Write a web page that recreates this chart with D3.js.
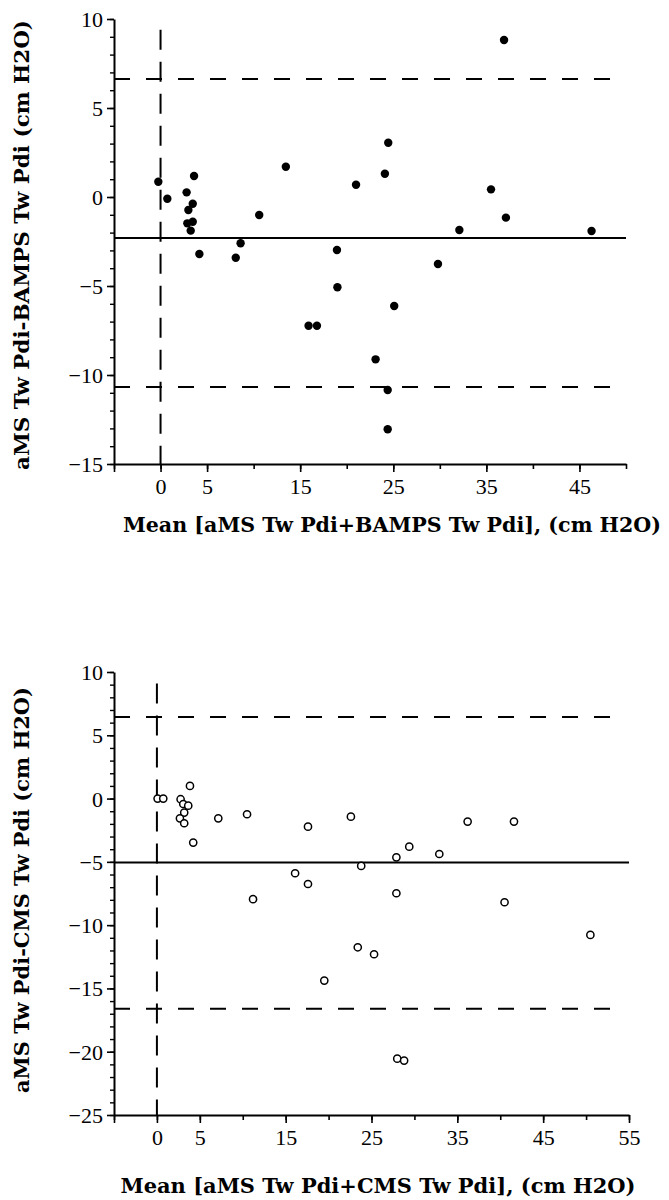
<!DOCTYPE html>
<html><head><meta charset="utf-8">
<script src="https://cdn.jsdelivr.net/npm/d3@7"></script>
<style>body{margin:0;background:#fff}</style>
</head><body>
<svg id="c" width="669" height="1200" xmlns="http://www.w3.org/2000/svg"></svg>
<script>
// ---- data: panel A (aMS vs BAMPS) ----
const bampsMean = [-0.24,0.73,2.8,3.6,3.46,2.99,2.88,3.46,3.24,4.17,8.08,8.6,10.6,13.46,18.95,19.0,36.9,24.46,24.1,21.0,35.5,37.1,32.1,46.3,29.8,15.9,16.8,25.1,23.1,24.4,24.4];
const bampsDiff = [0.86,-0.1,0.26,1.18,-0.38,-0.73,-1.48,-1.39,-1.89,-3.2,-3.41,-2.6,-1.01,1.70,-2.98,-5.07,8.82,3.05,1.31,0.69,0.43,-1.16,-1.85,-1.91,-3.76,-7.23,-7.23,-6.12,-9.12,-10.84,-13.05];
const bampsLimits = [6.63, -10.67];   // upper / lower limits of agreement
const bampsBias = [-2.3];
const bampsXTickLabels = [0,5,15,25,35,45];
const bampsYTickLabels = [10,5,0,-5,-10,-15];

// ---- data: panel B (aMS vs CMS) ----
const cmsMean = [0.08,0.74,3.85,2.76,3.07,3.65,3.18,2.68,3.18,4.23,7.15,10.5,17.6,16.1,17.6,11.2,22.6,36.2,41.6,29.4,27.9,32.9,23.8,27.9,40.5,50.5,23.4,25.3,19.5,28.0,28.8];
const cmsDiff = [0.0,0.0,1.0,-0.05,-0.43,-0.56,-1.11,-1.56,-1.95,-3.48,-1.56,-1.24,-2.22,-5.9,-6.75,-7.95,-1.43,-1.82,-1.82,-3.8,-4.64,-4.38,-5.32,-7.48,-8.19,-10.77,-11.75,-12.3,-14.38,-20.55,-20.7];
const cmsLimits = [6.45, -16.6];
const cmsBias = [-5.05];
const cmsXTickLabels = [0,5,15,25,35,45,55];
const cmsYTickLabels = [10,5,0,-5,-10,-15,-20,-25];

const svg = d3.select("#c");
const tickFont = "'Liberation Serif', 'Times New Roman', serif";
const titleFont = "'DejaVu Serif', serif";

function panel(o){
  const x = d3.scaleLinear().domain(o.xDomain).range(o.xRange);
  const y = d3.scaleLinear().domain(o.yDomain).range(o.yRange);
  const g = svg.append("g");
  const xb = o.yRange[0], xl = o.xRange[0];

  const yMinor = d3.range(o.yDomain[0], o.yDomain[1] + 1, 1);
  g.append("g").attr("transform", `translate(${xl},0)`)
    .call(d3.axisLeft(y).tickValues(yMinor).tickSize(4).tickSizeOuter(0).tickFormat(""))
    .call(a => a.selectAll("line").attr("stroke-width", 1.4))
    .call(a => a.select(".domain").attr("stroke-width", 2));
  g.append("g").attr("transform", `translate(${xl},0)`)
    .call(d3.axisLeft(y).tickValues(o.yTicks).tickSize(7).tickSizeOuter(0).tickPadding(4))
    .call(a => a.select(".domain").remove())
    .call(a => a.selectAll("line").attr("stroke-width", 1.6))
    .call(a => a.selectAll("text").attr("font-family", tickFont).attr("font-size", 22).attr("fill", "#000").attr("dy", "0.34em"));

  const xAll = d3.range(o.xDomain[0], o.xDomain[1] + 1, 5);
  g.append("g").attr("transform", `translate(0,${xb})`)
    .call(d3.axisBottom(x).tickValues(xAll).tickSize(5).tickSizeOuter(0).tickFormat(""))
    .call(a => a.selectAll("line").attr("stroke-width", 1.6))
    .call(a => a.select(".domain").attr("stroke-width", 2));
  g.append("g").attr("transform", `translate(0,${xb})`)
    .call(d3.axisBottom(x).tickValues(o.xTicks.concat([o.xDomain[0]])).tickSize(8).tickSizeOuter(0).tickPadding(6)
      .tickFormat(d => o.xTicks.includes(d) ? d : ""))
    .call(a => a.select(".domain").remove())
    .call(a => a.selectAll("line").attr("stroke-width", 1.6))
    .call(a => a.selectAll("text").attr("font-family", tickFont).attr("font-size", 22).attr("fill", "#000").attr("dy", "0.71em"));

  g.append("line").attr("x1", x(0)).attr("x2", x(0)).attr("y1", y(o.vTop)).attr("y2", y(o.yDomain[0]))
    .attr("stroke", "#000").attr("stroke-width", 2).attr("stroke-dasharray", "20,12");
  g.selectAll(".lim").data(o.limits).join("line")
    .attr("x1", x(o.xDomain[0])).attr("x2", x(o.dashEnd))
    .attr("y1", d => y(d)).attr("y2", d => y(d))
    .attr("stroke", "#000").attr("stroke-width", 2).attr("stroke-dasharray", "16,16");
  g.selectAll(".bias").data(o.bias).join("line")
    .attr("x1", x(o.xDomain[0])).attr("x2", x(o.xDomain[1]))
    .attr("y1", d => y(d)).attr("y2", d => y(d))
    .attr("stroke", "#000").attr("stroke-width", 2);

  g.selectAll(".pt").data(o.mx).join("circle")
    .attr("cx", d => x(d)).attr("cy", (d, i) => y(o.my[i]))
    .attr("r", o.filled ? 4.2 : 3.6)
    .attr("fill", o.filled ? "#000" : "#fff")
    .attr("stroke", "#000").attr("stroke-width", o.filled ? 0 : 1.5);

  g.append("text").attr("transform", `translate(29,${o.yTitleC}) rotate(-90)`)
    .attr("text-anchor", "middle").attr("font-family", titleFont).attr("font-weight", "bold")
    .attr("font-size", 20).attr("textLength", o.yTitleLen).attr("lengthAdjust", "spacingAndGlyphs")
    .text(o.yTitle);
  g.append("text").attr("x", o.xTitleC).attr("y", o.xTitleY)
    .attr("text-anchor", "middle").attr("font-family", titleFont).attr("font-weight", "bold")
    .attr("font-size", 20).attr("textLength", o.xTitleLen).attr("lengthAdjust", "spacingAndGlyphs")
    .text(o.xTitle);
}

panel({
  xDomain: [-5, 50], xRange: [114, 626], yDomain: [-15, 10], yRange: [464, 19],
  xTicks: bampsXTickLabels, yTicks: bampsYTickLabels,
  mx: bampsMean, my: bampsDiff, limits: bampsLimits, bias: bampsBias,
  dashEnd: 48.7, vTop: 9.4, filled: true,
  yTitle: "aMS Tw Pdi-BAMPS Tw Pdi (cm H2O)", yTitleC: 245, yTitleLen: 450,
  xTitle: "Mean [aMS Tw Pdi+BAMPS Tw Pdi], (cm H2O)", xTitleC: 392, xTitleY: 532, xTitleLen: 538
});
panel({
  xDomain: [-5, 55], xRange: [114, 629], yDomain: [-25, 10], yRange: [1115, 672],
  xTicks: cmsXTickLabels, yTicks: cmsYTickLabels,
  mx: cmsMean, my: cmsDiff, limits: cmsLimits, bias: cmsBias,
  dashEnd: 53.0, vTop: 9.1, filled: false,
  yTitle: "aMS Tw Pdi-CMS Tw Pdi (cm H2O)", yTitleC: 890, yTitleLen: 406,
  xTitle: "Mean [aMS Tw Pdi+CMS Tw Pdi], (cm H2O)", xTitleC: 378, xTitleY: 1193, xTitleLen: 515
});
</script>
</body></html>
